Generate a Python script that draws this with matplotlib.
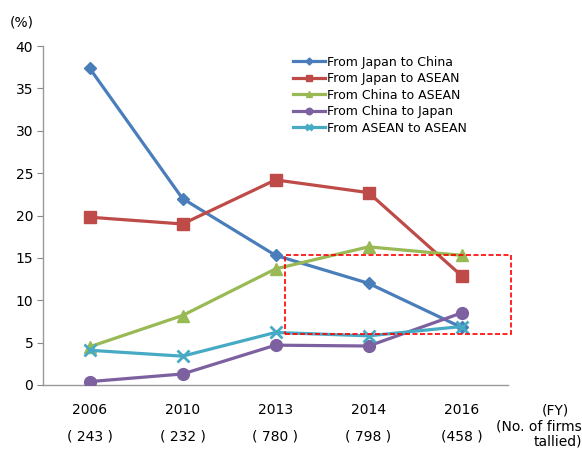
import numpy as np
import matplotlib.pyplot as plt
from matplotlib.patches import Rectangle

years = ["2006", "2010", "2013", "2014", "2016"]
firms = ["( 243 )", "( 232 )", "( 780 )", "( 798 )", "(458 )"]

japan_china = [37.4, 22.0, 15.3, 12.0, 6.8]
japan_asean = [19.8, 19.0, 24.2, 22.7, 12.9]
china_asean = [4.5, 8.2, 13.7, 16.3, 15.3]
china_japan = [0.4, 1.3, 4.7, 4.6, 8.5]
asean_asean = [4.1, 3.4, 6.2, 5.8, 6.9]

series = [
    ("From Japan to China", japan_china, "#4a7ebb", "D", 6.5),
    ("From Japan to ASEAN", japan_asean, "#be4b48", "s", 8.5),
    ("From China to ASEAN", china_asean, "#98b954", "^", 9),
    ("From China to Japan", china_japan, "#7d60a0", "o", 8.5),
    ("From ASEAN to ASEAN", asean_asean, "#46aac5", "x", 8),
]

plt.rcParams['font.family'] = ['DejaVu Sans']

fig = plt.figure(figsize=(5.82, 4.5), dpi=100)
ax = fig.add_axes([43 / 582, 65 / 450, 465 / 582, 339 / 450])

x = np.arange(len(years))
for name, vals, col, mk, ms in series:
    mew = 2 if mk == "x" else 1
    ax.plot(x, vals, color=col, lw=2.3, marker=mk, markersize=ms,
            markeredgewidth=mew, label=name, zorder=3)

ax.set_xlim(-0.5, 4.5)
ax.set_ylim(0, 40)
ax.set_yticks(range(0, 41, 5))
ax.set_xticks(x)
ax.set_xticklabels([y + "\n\n" + f for y, f in zip(years, firms)], linespacing=0.95)
ax.tick_params(axis='x', length=0, pad=13, labelsize=10)
ax.tick_params(axis='y', length=4, color='#888888', labelsize=10, pad=3)
for s in ["top", "right"]:
    ax.spines[s].set_visible(False)
for s in ["left", "bottom"]:
    ax.spines[s].set_color('#999999')
    ax.spines[s].set_linewidth(1)

ax.add_patch(Rectangle((2.1, 6.0), 2.43, 9.3, fill=False, edgecolor='red',
                       linestyle=(0, (3, 1.5)), lw=1.2, clip_on=False, zorder=4))

fig.text(22 / 582, 1 - 22 / 450, "(%)", fontsize=10, ha='center', va='center')
fig.text(555 / 582, 1 - 410 / 450, "(FY)", fontsize=10, ha='center', va='center')
fig.text(582 / 582, 1 - 420 / 450, "(No. of firms\ntallied)", fontsize=10,
         ha='right', va='top', multialignment='right', linespacing=1.05)

ax.legend(loc='upper left', bbox_to_anchor=(0.524, 0.99), frameon=False,
          fontsize=9, handlelength=2.6, handletextpad=0.1, labelspacing=0.28,
          markerscale=0.55, borderpad=0)

fig.savefig("out.png", dpi=100)
